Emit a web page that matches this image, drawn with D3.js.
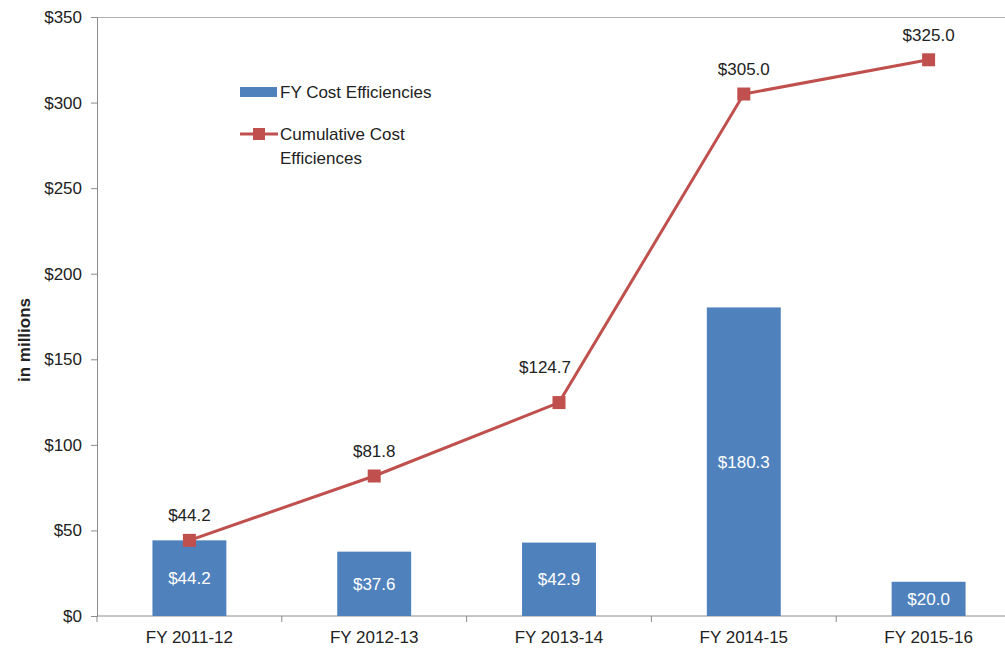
<!DOCTYPE html>
<html>
<head>
<meta charset="utf-8">
<script src="https://cdn.jsdelivr.net/npm/d3@7"></script>
<style>
  body { margin: 0; background: #fff; }
  text { font-family: "Liberation Sans Narrow", "Arial Narrow", "Liberation Sans", sans-serif; fill: #222; }
</style>
</head>
<body>
<div id="vis"></div>
<script>
// chart values
const categories = ['FY 2011-12', 'FY 2012-13', 'FY 2013-14', 'FY 2014-15', 'FY 2015-16']
const fyValues = [44.2, 37.6, 42.9, 180.3, 20.0]
const cumulativeValues = [44.2, 81.8, 124.7, 305.0, 325.0]
const yTicks = [0, 50, 100, 150, 200, 250, 300, 350]

;(function() {
  const svg_width = 1005,
        svg_height = 649,
        svg = d3.select('#vis').append('svg')

  svg.attr('width', svg_width).attr('height', svg_height)

  const left = 97, top = 17, bottom = 616,
        band = 184.8,
        right = left + band * categories.length

  const x = d3.scaleBand().domain(categories).range([left, right]).paddingInner(0.6).paddingOuter(0.3)
  const y = d3.scaleLinear().domain([0, 350]).range([bottom, top])
  const cx = d => x(d) + x.bandwidth() / 2

  const blue = '#4F81BD', red = '#C0504D', axisGray = '#8c8c8c'

  // top border
  svg.append('line')
    .attr('x1', left).attr('x2', svg_width)
    .attr('y1', top + 0.5).attr('y2', top + 0.5)
    .attr('stroke', '#b0b0b0')

  // y axis
  const yAxis = svg.append('g')
    .attr('transform', `translate(${left},0)`)
    .call(d3.axisLeft(y).tickValues(yTicks).tickSize(6).tickPadding(9).tickFormat(d => '$' + d))
  yAxis.select('.domain').attr('stroke', axisGray)
  yAxis.selectAll('.tick line').attr('stroke', axisGray)
  yAxis.selectAll('text').style('font-size', '17px').attr('fill', '#222')

  // x axis with ticks between categories
  const xAxis = svg.append('g').attr('transform', `translate(0,${bottom})`)
  xAxis.append('line')
    .attr('x1', left).attr('x2', svg_width)
    .attr('stroke', axisGray)
  xAxis.selectAll('.sep')
    .data(d3.range(categories.length + 1))
    .join('line')
    .attr('x1', i => left + i * band).attr('x2', i => left + i * band)
    .attr('y1', 0).attr('y2', 6)
    .attr('stroke', axisGray)
  xAxis.selectAll('.lab')
    .data(categories)
    .join('text')
    .attr('x', d => cx(d))
    .attr('y', 27)
    .attr('text-anchor', 'middle')
    .style('font-size', '17px')
    .text(d => d)

  // y title
  svg.append('text')
    .attr('transform', 'translate(30,340) rotate(-90)')
    .attr('text-anchor', 'middle')
    .style('font-family', '"Liberation Sans", Arial, sans-serif')
    .style('font-weight', 'bold')
    .style('font-size', '17px')
    .text('in millions')

  // bars
  svg.selectAll('.bar')
    .data(fyValues)
    .join('rect')
    .attr('x', (d, i) => x(categories[i]))
    .attr('width', x.bandwidth())
    .attr('y', d => y(d))
    .attr('height', d => bottom - y(d))
    .attr('fill', blue)

  svg.selectAll('.barlab')
    .data(fyValues)
    .join('text')
    .attr('x', (d, i) => cx(categories[i]))
    .attr('y', d => (y(d) + bottom) / 2 + 6)
    .attr('text-anchor', 'middle')
    .style('font-size', '17px')
    .style('fill', '#fff')
    .text(d => '$' + d.toFixed(1))

  // cumulative line
  const line = d3.line()
    .x((d, i) => cx(categories[i]))
    .y(d => y(d))

  svg.append('path')
    .datum(cumulativeValues)
    .attr('d', line)
    .attr('fill', 'none')
    .attr('stroke', red)
    .attr('stroke-width', 3)

  const m = 13
  svg.selectAll('.pt')
    .data(cumulativeValues)
    .join('rect')
    .attr('x', (d, i) => cx(categories[i]) - m / 2)
    .attr('y', d => y(d) - m / 2)
    .attr('width', m).attr('height', m)
    .attr('fill', red)

  // label for 2013-14 was nudged up-left in the original
  const nudge = [[0, 0], [0, 0], [-14, -11], [0, 0], [0, 0]]
  svg.selectAll('.ptlab')
    .data(cumulativeValues)
    .join('text')
    .attr('x', (d, i) => cx(categories[i]) + nudge[i][0])
    .attr('y', (d, i) => y(d) - 19 + nudge[i][1])
    .attr('text-anchor', 'middle')
    .style('font-size', '17px')
    .text(d => '$' + d.toFixed(1))

  // legend
  const lg = svg.append('g')
  lg.append('rect')
    .attr('x', 240).attr('y', 87).attr('width', 37).attr('height', 10)
    .attr('fill', blue)
  lg.append('text').attr('x', 280).attr('y', 98).style('font-size', '17px').text('FY Cost Efficiencies')

  lg.append('line')
    .attr('x1', 240).attr('x2', 278).attr('y1', 134).attr('y2', 134)
    .attr('stroke', red).attr('stroke-width', 3)
  lg.append('rect')
    .attr('x', 253).attr('y', 128).attr('width', 12).attr('height', 12)
    .attr('fill', red)
  lg.append('text').attr('x', 280).attr('y', 140).style('font-size', '17px').text('Cumulative Cost')
  lg.append('text').attr('x', 280).attr('y', 164).style('font-size', '17px').text('Efficiences')
}())
</script>
</body>
</html>
